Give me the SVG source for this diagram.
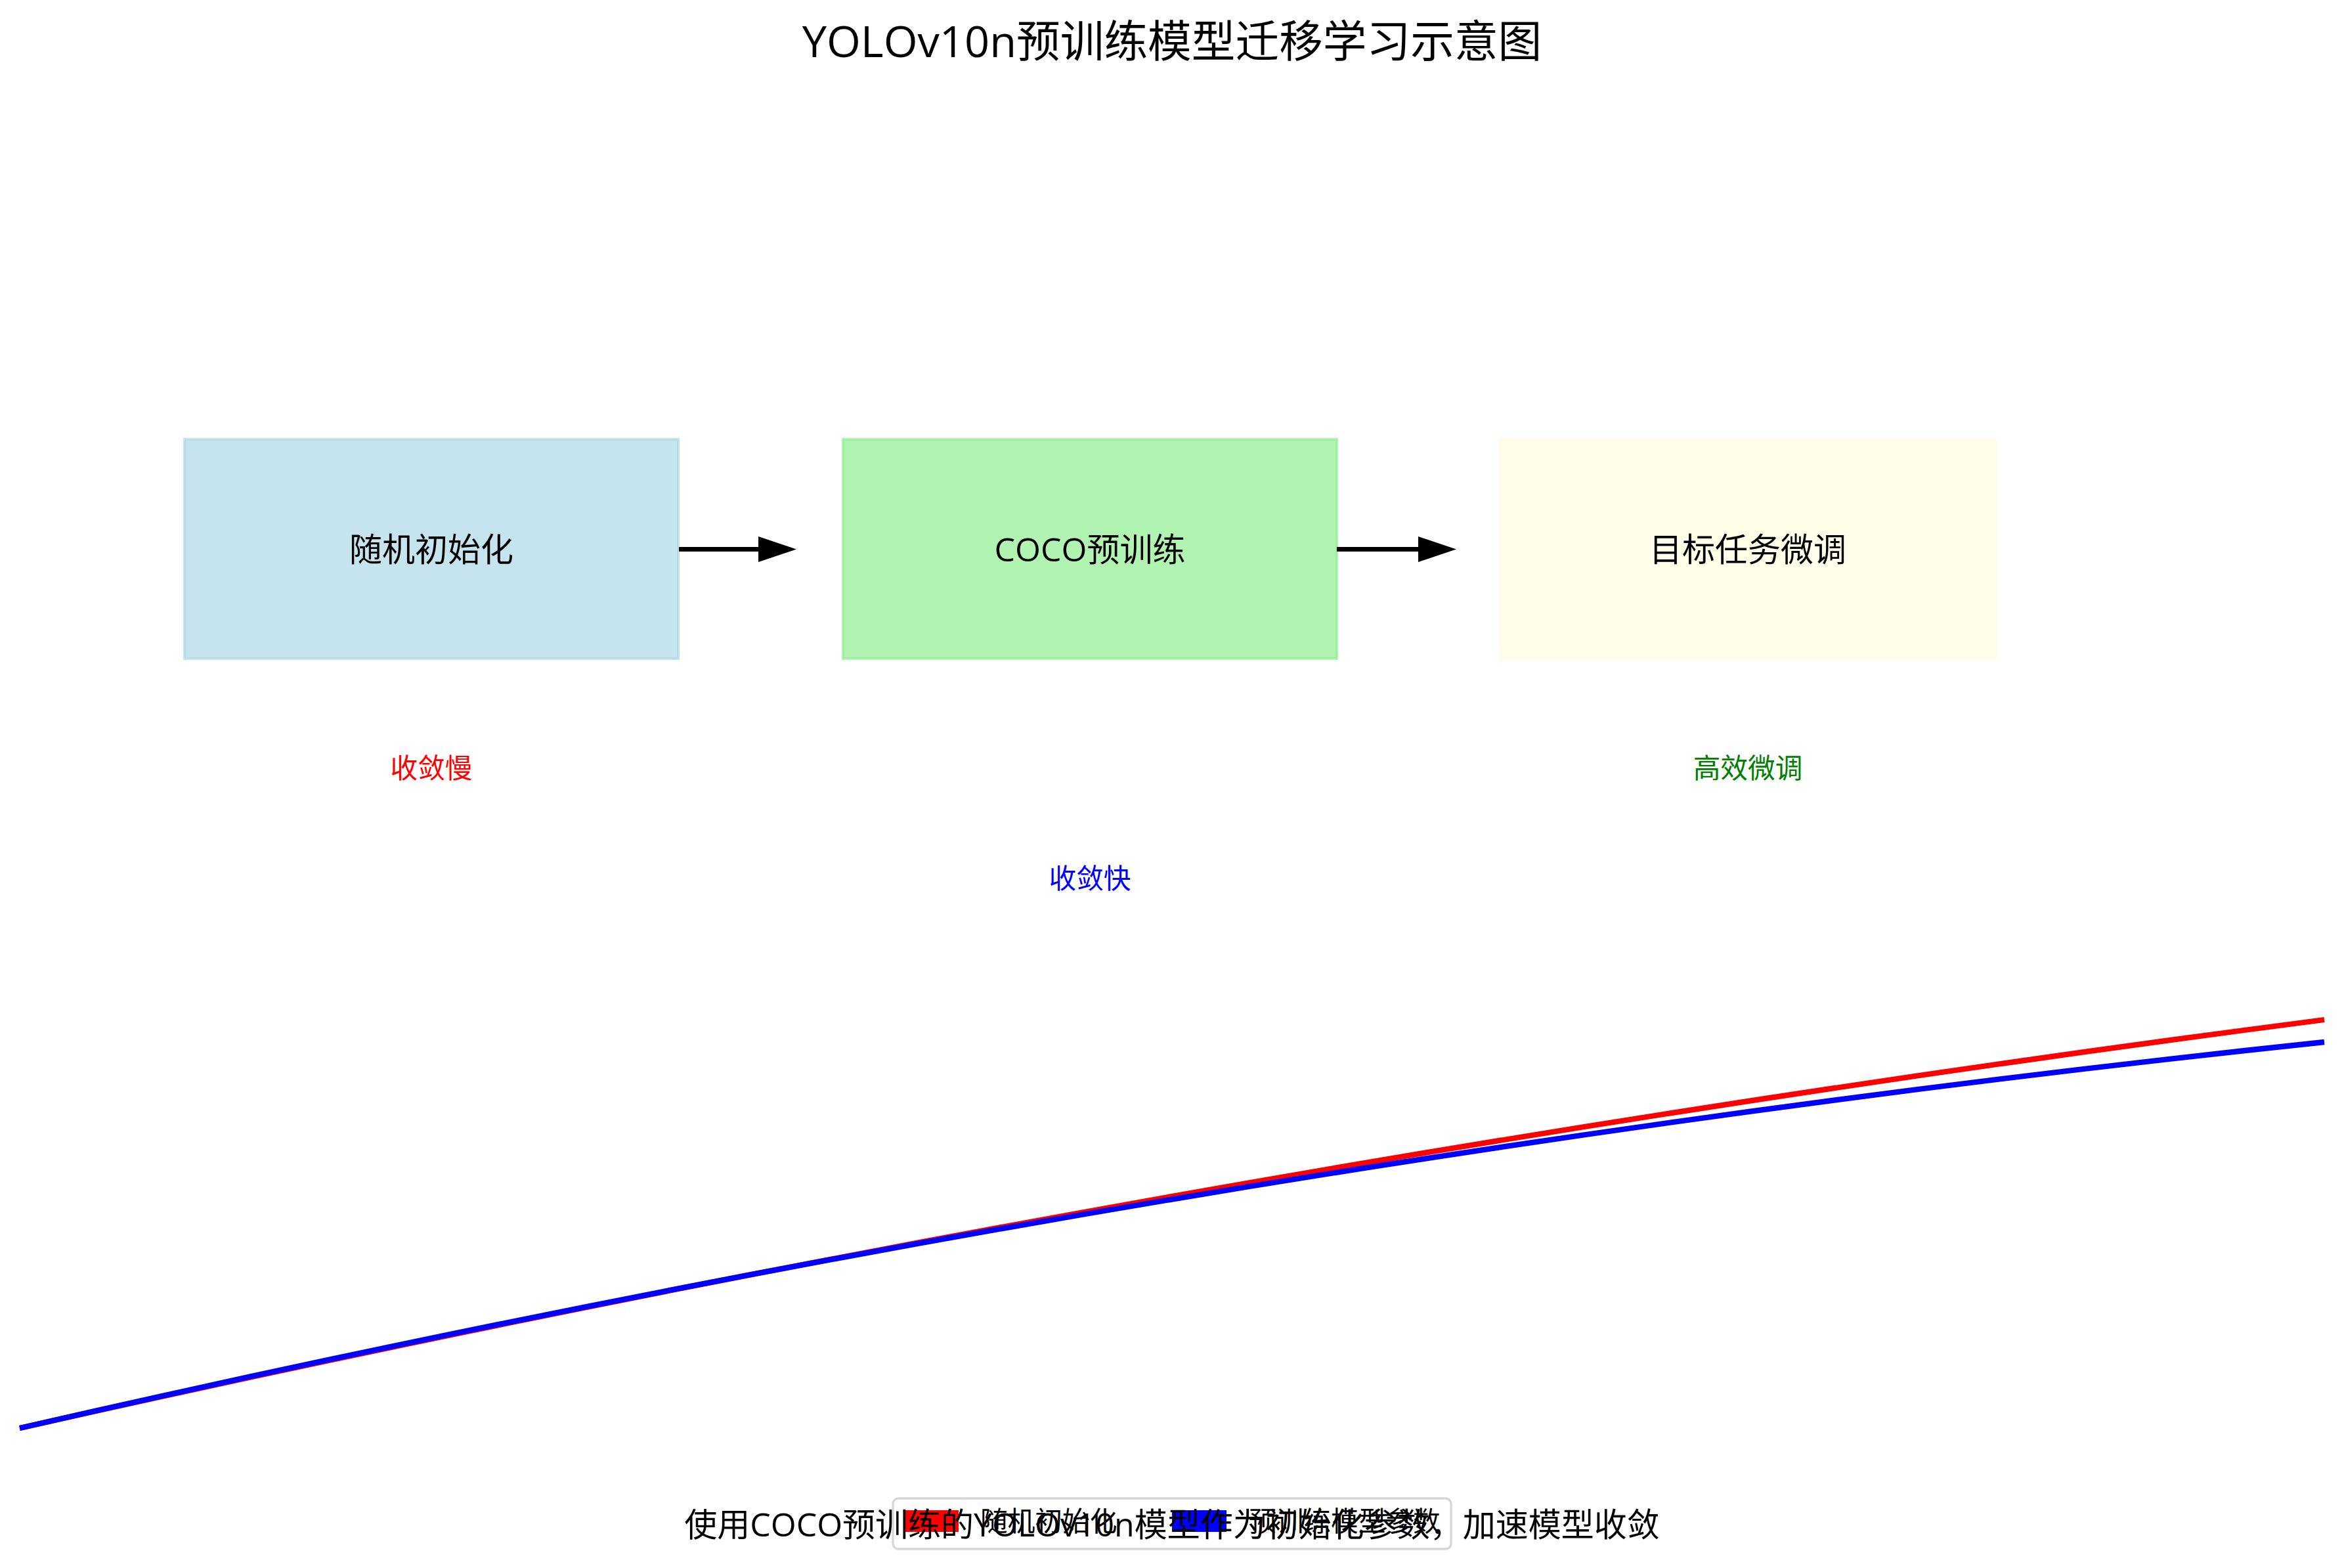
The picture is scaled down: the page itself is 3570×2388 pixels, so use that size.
<svg xmlns="http://www.w3.org/2000/svg" width="3570" height="2388" viewBox="0 0 3570 2388">
<style>
text { font-family: "Open Sans", "Noto Sans CJK SC", sans-serif; }
.title { font-size: 66.7px; fill: #000; text-anchor: middle; }
.lbl { font-size: 50px; fill: #000; text-anchor: middle; }
.note { font-size: 41.7px; text-anchor: middle; }
.leg { font-size: 41.7px; fill: #000; }
.box { stroke-width: 4; fill-opacity: 0.7; stroke-opacity: 0.7; }
.conn line { stroke: #000; stroke-width: 7; }
.conn polygon { fill: #000; }
.curve { fill: none; stroke-width: 8.3; }
</style>
<rect width="3570" height="2388" fill="#ffffff"/>
<text class="title" x="1785" y="87">YOLOv10n预训练模型迁移学习示意图</text>

<g id="node-random">
  <rect class="box" x="281" y="669" width="752" height="334" fill="lightblue" stroke="lightblue"/>
  <text class="lbl" x="657" y="855">随机初始化</text>
</g>
<g id="node-coco">
  <rect class="box" x="1284" y="669" width="752" height="334" fill="lightgreen" stroke="lightgreen"/>
  <text class="lbl" x="1660" y="855">COCO预训练</text>
</g>
<g id="node-finetune">
  <rect class="box" x="2285" y="669" width="754" height="334" fill="lightyellow" stroke="lightyellow"/>
  <text class="lbl" x="2662" y="855">目标任务微调</text>
</g>

<g id="connectors" class="conn">
  <line x1="1034" y1="836.5" x2="1158" y2="836.5"/>
  <polygon points="1155,817 1213,836.5 1155,856"/>
  <line x1="2036" y1="836.5" x2="2163" y2="836.5"/>
  <polygon points="2160,817 2218,836.5 2160,856"/>
</g>

<g id="notes">
  <text class="note" x="657" y="1185" fill="#ff0000">收敛慢</text>
  <text class="note" x="2662" y="1185" fill="#008000">高效微调</text>
  <text class="note" x="1660" y="1353" fill="#0000ff">收敛快</text>
</g>

<g id="curves">
  <path class="curve" stroke="#ff0000" d="M30,2175 Q1785,1780 3540,1553"/>
  <path class="curve" stroke="#0000ff" d="M30,2175 Q1785,1772 3540,1587"/>
</g>

<g id="legend">
  <rect x="1360" y="2282" width="850" height="77" rx="8.3" fill="#ffffff" fill-opacity="0.8" stroke="#cccccc" stroke-opacity="0.8" stroke-width="3.3"/>
  <rect x="1377" y="2300" width="83" height="33" fill="#ff0000"/>
  <text class="leg" x="1493" y="2332">随机初始化</text>
  <rect x="1785" y="2300" width="83" height="33" fill="#0000ff"/>
  <text class="leg" x="1902" y="2332">预训练模型参数</text>
</g>

<text class="lbl" x="1785" y="2340">使用COCO预训练的YOLOv10n模型作为初始化参数，加速模型收敛</text>
</svg>
